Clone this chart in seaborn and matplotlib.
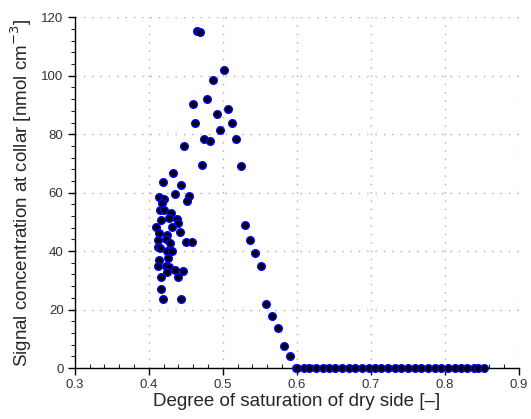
import numpy as np
import pandas as pd
import matplotlib
matplotlib.use("Agg")
import matplotlib.pyplot as plt
import seaborn as sns
from matplotlib.ticker import MultipleLocator

# degree of saturation (dry side) and signal concentration at collar
sat = [0.465, 0.469, 0.501, 0.487, 0.479, 0.460, 0.507, 0.492, 0.512, 0.462,
       0.496, 0.518, 0.475, 0.483, 0.448, 0.472, 0.524, 0.433, 0.419, 0.444,
       0.436, 0.414, 0.455, 0.421, 0.452, 0.418, 0.415, 0.421, 0.430, 0.416,
       0.427, 0.438, 0.440, 0.530, 0.410, 0.432, 0.414, 0.442, 0.425, 0.413,
       0.423, 0.537, 0.429, 0.450, 0.458, 0.412, 0.415, 0.424, 0.431, 0.544,
       0.426, 0.414, 0.413, 0.423, 0.427, 0.435, 0.446, 0.424, 0.551, 0.417,
       0.439, 0.417, 0.419, 0.443, 0.559, 0.567, 0.575, 0.583, 0.591, 0.599]
conc = [115.4, 114.9, 101.8, 98.6, 92.2, 90.4, 88.7, 87.0, 83.9, 83.9,
        81.3, 78.5, 78.2, 77.7, 75.9, 69.6, 69.1, 66.7, 63.8, 62.7,
        59.4, 58.6, 58.9, 57.8, 57.1, 56.4, 54.1, 54.1, 52.9, 50.8,
        51.3, 51.1, 49.6, 48.8, 48.4, 48.3, 46.2, 46.4, 45.5, 43.9,
        44.3, 43.9, 42.8, 43.0, 43.0, 41.5, 40.9, 39.9, 40.1, 39.4,
        37.8, 36.8, 34.8, 34.8, 34.5, 33.6, 33.3, 32.9, 34.8, 31.3,
        31.1, 27.0, 23.7, 23.7, 21.8, 17.7, 13.7, 7.6, 4.0, 0.1]

# points sitting at zero on the wet end
sat_zero = [0.600, 0.609, 0.617, 0.626, 0.635, 0.643, 0.652, 0.661, 0.670, 0.679,
            0.688, 0.697, 0.706, 0.714, 0.723, 0.732, 0.741, 0.750, 0.759, 0.768,
            0.777, 0.786, 0.795, 0.804, 0.813, 0.821, 0.830, 0.839, 0.845, 0.853]
conc_zero = [0.0] * len(sat_zero)

df = pd.DataFrame({"sat": sat + sat_zero, "conc": conc + conc_zero})

sns.set_style("white")
plt.rcParams["font.family"] = ["Liberation Sans", "DejaVu Sans"]

fig = plt.figure(figsize=(5.31, 4.19), dpi=100)
ax = fig.add_axes([0.1407, 0.1217, 0.8367, 0.837])

sns.scatterplot(data=df, x="sat", y="conc", ax=ax, color="black",
                edgecolor="#0000ff", linewidth=1.0, s=30, zorder=3, clip_on=False)

ax.set_xlim(0.3, 0.9)
ax.set_ylim(0, 120)
ax.xaxis.set_major_locator(MultipleLocator(0.1))
ax.xaxis.set_minor_locator(MultipleLocator(0.02))
ax.yaxis.set_major_locator(MultipleLocator(20))
ax.yaxis.set_minor_locator(MultipleLocator(4))
ax.xaxis.set_major_formatter(matplotlib.ticker.FormatStrFormatter("%.1f"))

ax.grid(True, which="major", linestyle=(0, (1, 5)), color="#aaaaaa", linewidth=1.0)
for s in ["top", "right"]:
    ax.spines[s].set_visible(False)
for s in ["left", "bottom"]:
    ax.spines[s].set_color("black")
    ax.spines[s].set_linewidth(1.0)

ax.tick_params(which="major", direction="out", length=5, width=1, colors="black",
               labelcolor="#333333", labelsize=9.5, left=True, bottom=True, pad=3)
ax.tick_params(axis="x", which="minor", direction="in", length=3, width=0.8, bottom=True)
ax.tick_params(axis="y", which="minor", direction="out", length=3, width=0.8, left=True)

ax.set_xlabel("Degree of saturation of dry side [–]", fontsize=13.5, labelpad=1)
ax.set_ylabel("Signal concentration at collar [nmol cm$^{-3}$]", fontsize=13.5, labelpad=5)

fig.savefig("out.png", dpi=100)
